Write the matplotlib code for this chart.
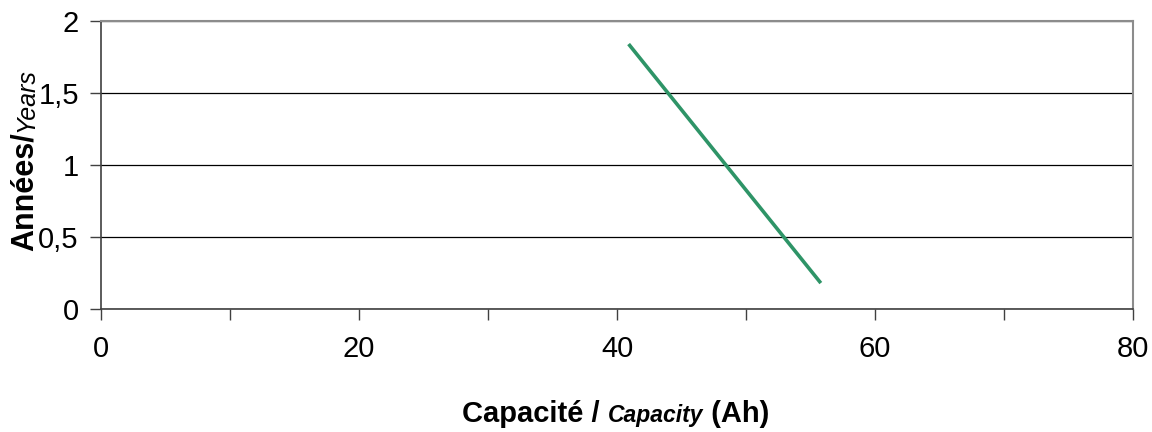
import matplotlib.pyplot as plt
from matplotlib.ticker import FixedLocator, FuncFormatter

# data
capacity = [40.9, 55.8]      # Ah
years = [1.84, 0.18]         # années / years

x_major = [0, 20, 40, 60, 80]
x_minor = [10, 30, 50, 70]
y_ticks = [0, 0.5, 1, 1.5, 2]

plt.rcParams['font.family'] = ['Liberation Sans', 'DejaVu Sans']

fig = plt.figure(figsize=(11.52, 4.32), dpi=100)
ax = fig.add_axes([101 / 1152, 1 - 309 / 432, (1133 - 101) / 1152, (309 - 21) / 432])

ax.plot(capacity, years, color='#2e9467', linewidth=2.6, solid_capstyle='butt')

ax.set_xlim(0, 80)
ax.set_ylim(0, 2)

ax.xaxis.set_major_locator(FixedLocator(x_major))
ax.xaxis.set_minor_locator(FixedLocator(x_minor))
ax.yaxis.set_major_locator(FixedLocator(y_ticks))
ax.yaxis.set_major_formatter(FuncFormatter(lambda v, p: ('%g' % v).replace('.', ',')))

ax.tick_params(axis='x', which='both', direction='out', length=8, width=1,
               color='#404040', labelsize=21, pad=11)
ax.tick_params(axis='y', which='major', direction='out', length=8, width=1,
               color='#404040', labelsize=21, pad=8)

ax.grid(axis='y', color='black', linewidth=0.9)
ax.set_axisbelow(True)

for side in ['left', 'bottom']:
    ax.spines[side].set_color('#404040')
    ax.spines[side].set_linewidth(1.2)
for side in ['top', 'right']:
    ax.spines[side].set_color('#8c8c8c')
    ax.spines[side].set_linewidth(1.5)

# mixed-style axis titles, placed piece by piece
fig.canvas.draw()
r = fig.canvas.get_renderer()


def place_row(parts, x0, y0, rotation=0):
    # parts: (text, size, weight, style); lays them out along the text direction
    pos = x0 if rotation == 0 else y0
    for txt, size, weight, style in parts:
        if rotation == 0:
            t = fig.text(pos / 1152, 1 - y0 / 432, txt, fontsize=size, fontweight=weight,
                         fontstyle=style, ha='left', va='baseline')
        else:
            t = fig.text(x0 / 1152, 1 - pos / 432, txt, fontsize=size, fontweight=weight,
                         fontstyle=style, ha='left', va='baseline', rotation=90,
                         rotation_mode='anchor')
        bb = t.get_window_extent(r)
        if rotation == 0:
            pos += bb.width
        else:
            pos -= bb.height


place_row([('Capacité / ', 21, 'bold', 'normal'),
           ('Capacity', 16.5, 'bold', 'italic'),
           (' (Ah)', 21, 'bold', 'normal')], 462, 422)

place_row([('Années/', 22, 'bold', 'normal'),
           ('Years', 18, 'normal', 'italic')], 33, 251, rotation=90)

fig.savefig('out.png', dpi=100)
